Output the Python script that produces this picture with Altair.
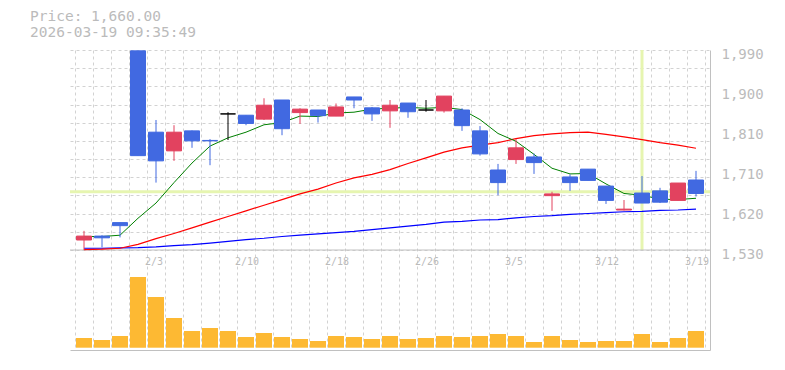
import altair as alt
import pandas as pd

# ---------------- data ----------------
dates = ["1/28", "1/29", "1/30", "2/2", "2/3", "2/4", "2/5", "2/6", "2/9", "2/10",
         "2/12", "2/13", "2/16", "2/17", "2/18", "2/19", "2/20", "2/24", "2/25", "2/26",
         "2/27", "3/2", "3/3", "3/4", "3/5", "3/6", "3/9", "3/10", "3/11", "3/12",
         "3/13", "3/16", "3/17", "3/18", "3/19"]
open_ = [1553, 1562, 1593, 1988, 1801, 1758, 1804, 1782, 1843, 1840,
         1831, 1875, 1846, 1852, 1838, 1882, 1857, 1850, 1868, 1852,
         1850, 1852, 1804, 1714, 1738, 1744, 1655, 1698, 1716, 1677,
         1622, 1661, 1666, 1644, 1691]
high = [1574, 1564, 1593, 1988, 1829, 1817, 1805, 1785, 1847, 1840,
        1879, 1875, 1856, 1852, 1867, 1882, 1859, 1875, 1868, 1875,
        1884, 1856, 1815, 1728, 1785, 1752, 1664, 1704, 1716, 1677,
        1645, 1700, 1673, 1684, 1712]
low = [1530, 1536, 1559, 1747, 1685, 1735, 1765, 1725, 1783, 1817,
       1829, 1794, 1820, 1823, 1838, 1856, 1827, 1811, 1834, 1848,
       1846, 1804, 1747, 1656, 1728, 1705, 1620, 1666, 1690, 1636,
       1621, 1638, 1638, 1644, 1653]
close = [1562, 1558, 1586, 1747, 1735, 1801, 1781, 1781, 1843, 1821,
         1863, 1809, 1854, 1839, 1859, 1875, 1843, 1863, 1848, 1852,
         1884, 1816, 1751, 1685, 1765, 1731, 1659, 1685, 1690, 1644,
         1624, 1638, 1640, 1684, 1660]
volume = [97, 77, 117, 707, 507, 297, 167, 197, 167, 107,
          147, 107, 87, 67, 117, 107, 87, 117, 87, 97,
          117, 107, 117, 137, 117, 57, 117, 77, 57, 67,
          67, 137, 57, 97, 167]
ma5 = [1561, 1561, 1564, 1603, 1638, 1685, 1730, 1769, 1788, 1801,
       1818, 1823, 1838, 1837, 1845, 1847, 1854, 1856, 1858, 1856,
       1858, 1853, 1830, 1798, 1780, 1750, 1718, 1705, 1706, 1682,
       1660, 1656, 1647, 1646, 1649]
ma25 = [1531, 1532, 1534, 1543, 1556, 1568, 1581, 1594, 1607, 1620,
        1633, 1646, 1659, 1670, 1684, 1696, 1704, 1715, 1729, 1742,
        1755, 1765, 1771, 1777, 1786, 1793, 1797, 1800, 1801, 1796,
        1790, 1784, 1777, 1771, 1764]
ma75 = [1534, 1534, 1535, 1535.5, 1537, 1540, 1542.5, 1546, 1550, 1554,
        1557, 1561, 1564, 1567, 1570, 1573, 1577, 1581, 1585, 1589,
        1594, 1596, 1599, 1600, 1604, 1607, 1609, 1612, 1614, 1616,
        1618, 1619, 1621, 1622, 1624]
label_dates = ["2/3", "2/10", "2/18", "2/26", "3/5", "3/12", "3/19"]
header_lines = ["Price: 1,660.00", "2026-03-19 09:35:49"]
PRICE_MIN, PRICE_MAX = 1530, 1990
CROSS_INDEX = 31
CROSS_PRICE = 1664

# ---------------- styles ----------------
FONT = "DejaVu Sans Mono"
TEXT_GRAY = "#bbbbbb"
GRID = "#d2d2d2"
AXIS = "#c0c0c0"
RED = "#e2425f"
BLUE = "#4169e1"
VOL = "#fdb933"
CROSS = "#e6f5b0"

n = len(dates)
df = pd.DataFrame({
    "i": list(range(n)), "date": dates, "open": open_, "high": high,
    "low": low, "close": close, "vol": volume,
    "ma5": ma5, "ma25": ma25, "ma75": ma75,
})
df["dir"] = ["up" if c > o else ("down" if c < o else "flat")
             for o, c in zip(open_, close)]

# price occupies the top 2/3 of the 300px-high frame, volume the bottom third
price_lo = PRICE_MIN - (PRICE_MAX - PRICE_MIN) / 2
pscale = alt.Scale(domain=[price_lo, PRICE_MAX], nice=False, zero=False)
vscale = alt.Scale(domain=[-23, 2977], nice=False, zero=False)

x_axis = alt.Axis(values=[k - 0.5 for k in range(n + 1)], grid=True,
                  gridDash=[3, 3], gridColor=GRID, gridWidth=1,
                  labels=False, ticks=False, domain=True,
                  domainColor=AXIS, title=None)
X = alt.X("i:Q", scale=alt.Scale(domain=[-0.5, n - 0.5], nice=False, zero=False),
          axis=x_axis)

label_axis = alt.Axis(orient="right",
                      values=[PRICE_MIN + k * (PRICE_MAX - PRICE_MIN) / 5 for k in range(6)],
                      labelExpr="format(round(datum.value/10)*10, ',')",
                      grid=False, ticks=False, tickSize=0, domain=True,
                      domainColor=AXIS, labelFont=FONT, labelFontSize=14,
                      labelColor=TEXT_GRAY, labelPadding=11, labelOffset=4,
                      labelBaseline="middle", labelFlush=False,
                      labelOverlap=False, title=None)
grid_axis = alt.Axis(orient="left",
                     values=[PRICE_MIN + k * (PRICE_MAX - PRICE_MIN) / 11 for k in range(12)],
                     grid=True, gridDash=[3, 3], gridColor=GRID, gridWidth=1,
                     labels=False, ticks=False, tickSize=0, domain=False, title=None)

dir_color = alt.Scale(domain=["up", "down", "flat"], range=[RED, BLUE, "#000000"])

cross_df = pd.DataFrame({"i": [CROSS_INDEX], "top": [PRICE_MAX], "bot": [PRICE_MIN],
                         "p": [CROSS_PRICE], "base": [PRICE_MIN]})

cross_v = alt.Chart(cross_df).mark_rule(color=CROSS, strokeWidth=3).encode(
    x=X, y=alt.Y("top:Q", scale=pscale, axis=None), y2="bot:Q")
cross_h = alt.Chart(cross_df).mark_rule(color=CROSS, strokeWidth=3).encode(
    y=alt.Y("p:Q", scale=pscale, axis=None))
base_line = alt.Chart(cross_df).mark_rule(color=AXIS, strokeWidth=1).encode(
    y=alt.Y("base:Q", scale=pscale, axis=None))

base = alt.Chart(df)
line75 = base.mark_line(color="#0000ff", strokeWidth=1.2).encode(
    x=X, y=alt.Y("ma75:Q", scale=pscale, axis=None))
line25 = base.mark_line(color="#ff0000", strokeWidth=1.2).encode(
    x=X, y=alt.Y("ma25:Q", scale=pscale, axis=None))
line5 = base.mark_line(color="#008000", strokeWidth=1).encode(
    x=X, y=alt.Y("ma5:Q", scale=pscale, axis=None))

wicks = base.mark_rule(strokeWidth=1).encode(
    x=X,
    y=alt.Y("low:Q", scale=pscale, axis=label_axis),
    y2="high:Q",
    color=alt.Color("dir:N", scale=dir_color, legend=None),
)
bodies = base.mark_bar(size=15, strokeWidth=1).encode(
    x=X,
    y=alt.Y("open:Q", scale=pscale, axis=grid_axis),
    y2="close:Q",
    color=alt.Color("dir:N", scale=dir_color, legend=None),
    stroke=alt.Stroke("dir:N", scale=dir_color, legend=None),
)

price_group = alt.layer(cross_v, cross_h, base_line, line75, line25, line5,
                        wicks, bodies).resolve_axis(y="independent")

vol_bars = base.mark_bar(size=16, color=VOL).encode(
    x=X, y=alt.Y("vol:Q", scale=vscale, axis=None))

date_labels = alt.Chart(df[df["date"].isin(label_dates)]).mark_text(
    align="left", baseline="middle", dx=-11, font=FONT, fontSize=10,
    color=TEXT_GRAY).encode(x=X, y=alt.value(212), text="date:N")

head1 = alt.Chart(pd.DataFrame({"t": [header_lines[0]]})).mark_text(
    align="left", baseline="middle", font=FONT, fontSize=14.5,
    color=TEXT_GRAY).encode(x=alt.value(-40), y=alt.value(-33), text="t:N")
head2 = alt.Chart(pd.DataFrame({"t": [header_lines[1]]})).mark_text(
    align="left", baseline="middle", font=FONT, fontSize=14.5,
    color=TEXT_GRAY).encode(x=alt.value(-40), y=alt.value(-17), text="t:N")

chart = alt.layer(price_group, vol_bars, date_labels, head1, head2).resolve_scale(
    y="independent"
).properties(
    width=640, height=300,
    padding={"left": 62, "top": 42, "right": 60, "bottom": 10},
    autosize=alt.AutoSizeParams(type="none"),
    background="white",
).configure_view(stroke=None)

chart.save("out.html", embed_options={"renderer": "svg", "actions": False})
